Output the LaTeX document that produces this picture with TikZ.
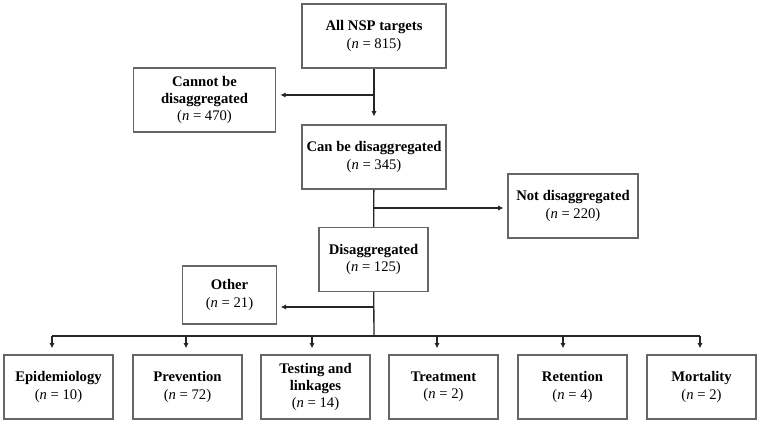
\documentclass[tikz,border=0pt]{standalone}
\usepackage{fontspec}
\setmainfont{Liberation Serif}
\usepackage{tikz}
\usetikzlibrary{positioning, arrows.meta}
\newcommand{\cnt}[1]{(\textit{n} = #1)}

\begin{document}
\begin{tikzpicture}[x=0.75pt, y=-0.75pt, line width=1pt]
		\tikzset{
		    tbox/.style= {rectangle, draw=black!60, line width=0.8pt, align=center, inner sep=0pt,
		        font=\fontsize{11}{12.8}\selectfont, minimum height=48pt},
		    twide/.style= {tbox, minimum width=108pt},
		    tcat/.style= {tbox, minimum width=81.75pt},
		    flow/.style= {-{Latex[length=4pt, width=4pt]}, black!85},
		}
		\useasboundingbox (0,0) rectangle (760,424);
		
		\node[twide] (all) at (374,36) {\textbf{All NSP targets}\\\cnt{815}};
		\node[twide, minimum width=107pt] (cannot) at (204.5,100) {\textbf{Cannot be}\\\textbf{disaggregated}\\\cnt{470}};
		\node[twide] (canbe) at (374,157) {\textbf{Can be disaggregated}\\\cnt{345}};
		\node[tbox, minimum width=97.5pt] (notdis) at (573,206) {\textbf{Not disaggregated}\\\cnt{220}};
		\node[tcat] (dis) at (373.5,259.5) {\textbf{Disaggregated}\\\cnt{125}};
		\node[tbox, minimum width=70pt, minimum height=43.5pt] (other) at (229.5,295) {\textbf{Other}\\\cnt{21}};
		
		\node[tcat] (epi) at (58.5,387) {\textbf{Epidemiology}\\\cnt{10}};
		\node[tcat] (prev) at (187.5,387) {\textbf{Prevention}\\\cnt{72}};
		\node[tcat] (test) at (315.5,387) {\textbf{Testing and}\\\textbf{linkages}\\\cnt{14}};
		\node[tcat] (treat) at (443.5,387) {\textbf{Treatment}\\\cnt{2}};
		\node[tcat] (ret) at (572.5,387) {\textbf{Retention}\\\cnt{4}};
		\node[tcat] (mort) at (701.5,387) {\textbf{Mortality}\\\cnt{2}};
		
		\coordinate (j1) at (374,95);
		\coordinate (j2) at (374,208);
		\coordinate (j3) at (374,307);
		\coordinate (j4) at (374,336);
		\coordinate (barl) at (52,336);
		\coordinate (barr) at (700,336);
		
		\draw[flow, shorten >=6pt] (all) -- (canbe);
		\draw[flow, shorten >=3pt] (j1) -- (cannot.east |- j1);
		\draw[black!85] (canbe) -- (dis);
		\draw[flow, shorten >=3pt] (j2) -- (notdis.west |- j2);
		\draw[black!85] (dis) -- (j4);
		\draw[flow, shorten >=3pt] (j3) -- (other.east |- j3);
		\draw[black!85] (barl) -- (barr);
		\foreach \b/\x in {epi/52, prev/186, test/312, treat/437, ret/563, mort/700}
		    \draw[flow, shorten >=5pt] (\x,336) -- (\x,355);
	\end{tikzpicture}
\end{document}
